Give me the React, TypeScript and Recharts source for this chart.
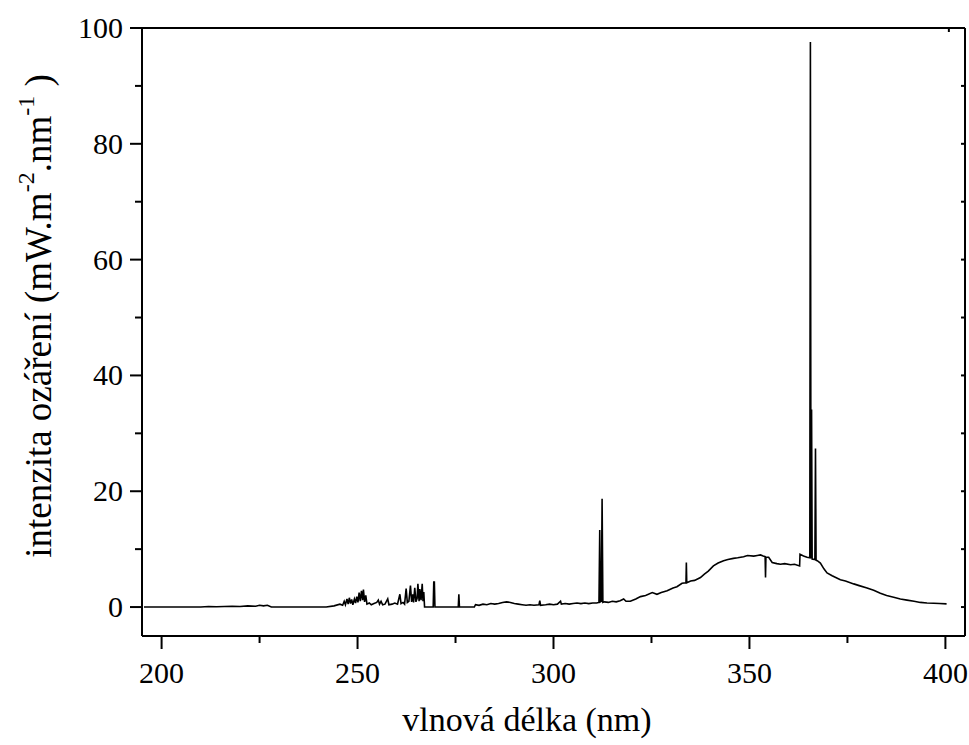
import { LineChart, Line, XAxis, YAxis } from 'recharts'

const FONT = '"Liberation Serif", "Times New Roman", serif'
const INK = '#000000'

// wavelength (nm) and irradiance
const WAVELENGTH = [
  195.5, 205, 210, 212, 214, 216, 218, 220, 222, 224, 225, 226, 227, 228, 235, 242, 244,
  245.5, 246.2, 246.6, 246.9, 247.3, 247.6, 247.9, 248.2, 248.5, 248.8, 249.2, 249.5, 249.8,
  250.1, 250.4, 250.7, 251.0, 251.3, 251.5, 251.8, 252.1, 252.4, 253.0, 253.5, 254.2, 254.9,
  255.3, 255.6, 256.0, 256.4, 257.0, 257.7, 258.0, 258.8, 259.5, 260.2, 260.8, 261.1, 261.6,
  262.0, 262.4, 262.7, 263.1, 263.5, 263.8, 264.1, 264.3, 264.6, 264.9, 265.2, 265.4, 265.7,
  265.9, 266.2, 266.5, 266.7, 266.9, 267.1, 269.3, 269.45, 269.6, 269.75, 275.7, 275.85, 276.0,
  279.8, 280.1, 281, 282, 283, 284, 285, 286, 287, 288, 289, 290, 291, 292, 293, 294, 295,
  296.3, 296.5, 296.7, 298, 299, 300, 301, 301.8, 302, 303, 304, 305, 306, 307, 308, 309, 310,
  311, 311.6, 311.8, 311.95, 312.2, 312.4, 312.6, 313, 314, 315, 316, 317, 317.9, 318.5, 319.6,
  321, 322.2, 323.5, 325.2, 326.4, 327.5, 329, 330.5, 331.5, 332.8, 333.8, 333.9, 334, 335,
  336, 337.5, 338.5, 339.5, 340.8, 342, 343.4, 344.5, 345.9, 347, 348.5, 349.5, 351.1, 352,
  352.8, 353.5, 354, 354.1, 354.2, 354.9, 355.8, 357, 357.9, 359, 360.5, 361.5, 362.8, 362.9,
  363.8, 364.7, 365.4, 365.55, 365.7, 365.85, 366, 366.7, 366.85, 367, 367.3, 368.1, 369,
  369.8, 371.1, 373.2, 374.5, 376.6, 378, 380, 381.7, 383.4, 385, 386.8, 388.5, 390.2, 392,
  393.6, 395.3, 397, 398.5, 400.3,
]

const INTENSITY = [
  0, 0, 0, 0.1, 0.05, 0.1, 0.15, 0.1, 0.2, 0.15, 0.3, 0.2, 0.3, 0, 0, 0, 0.2,
  0.5, 0.3, 1.0, 0.4, 1.4, 0.5, 1.6, 0.6, 1.3, 0.4, 1.4, 0.7, 1.8,
  0.8, 2.5, 1.0, 2.8, 1.2, 3.0, 0.9, 2.0, 0.5, 0.7, 0.4, 0.6, 0.8,
  1.2, 0.5, 1.0, 0.4, 0.5, 1.4, 0.4, 0.5, 0.7, 0.5, 2.2, 0.6, 0.8,
  0.5, 3.2, 0.8, 1.0, 3.7, 0.9, 2.2, 0.8, 3.3, 0.9, 1.5, 4.0, 1.0,
  3.1, 1.2, 4.0, 1.0, 2.6, 0, 0, 4.3, 4.3, 0, 0, 2.2, 0,
  0, 0.4, 0.3, 0.5, 0.4, 0.6, 0.5, 0.6, 0.8, 0.9, 0.8, 0.6, 0.5, 0.4, 0.3, 0.4, 0.3,
  0.4, 1.1, 0.3, 0.4, 0.5, 0.4, 0.5, 1.0, 0.5, 0.6, 0.5, 0.6, 0.7, 0.6, 0.7, 0.6, 0.7,
  0.7, 0.8, 13.3, 0.9, 1.0, 18.7, 0.8, 0.9, 0.8, 1.0, 0.9, 1.1, 1.4, 1.0, 1.0,
  1.4, 1.8, 2.0, 2.5, 2.2, 2.5, 2.8, 3.3, 3.5, 4.1, 4.2, 7.7, 4.2, 4.5,
  4.6, 5.1, 5.7, 6.2, 7.1, 7.6, 8.0, 8.2, 8.4, 8.5, 8.7, 8.9, 8.8, 8.9,
  9.0, 8.8, 8.7, 5.1, 8.6, 8.6, 7.7, 7.5, 7.4, 7.5, 7.3, 7.4, 7.1, 9.1,
  8.8, 8.6, 8.5, 97.6, 8.4, 34.1, 8.3, 8.2, 27.4, 8.1, 8.0, 7.6, 6.6,
  5.9, 5.4, 4.7, 4.5, 4.0, 3.7, 3.3, 2.9, 2.4, 2.0, 1.7, 1.4, 1.2, 1.0,
  0.8, 0.7, 0.65, 0.6, 0.55,
]

const X_TICKS = [200, 225, 250, 275, 300, 325, 350, 375, 400]
const Y_TICKS = [0, 10, 20, 30, 40, 50, 60, 70, 80, 90, 100]

const data = WAVELENGTH.map((nm, i) => ({ nm, val: INTENSITY[i] }))

// eslint-disable-next-line @typescript-eslint/no-explicit-any
function LeftTick({ x, y, payload }: any) {
  const major = payload.value % 20 === 0
  return (
    <g>
      <line x1={x} x2={x - (major ? 12 : 7)} y1={y} y2={y} stroke={INK} strokeWidth={2} />
      {major && (
        <text x={x - 19} y={y + 10} textAnchor="end" fontSize={30} fontFamily={FONT} fill={INK}>
          {payload.value}
        </text>
      )}
    </g>
  )
}

// eslint-disable-next-line @typescript-eslint/no-explicit-any
function BottomTick({ x, y, payload }: any) {
  const major = payload.value % 50 === 0
  return (
    <g>
      <line x1={x} x2={x} y1={y} y2={y + (major ? 13 : 7)} stroke={INK} strokeWidth={2} />
      {major && (
        <text x={x} y={y + 47} textAnchor="middle" fontSize={30} fontFamily={FONT} fill={INK}>
          {payload.value}
        </text>
      )}
    </g>
  )
}

// eslint-disable-next-line @typescript-eslint/no-explicit-any
function TopTick({ x, y }: any) {
  return <line x1={x} x2={x} y1={y} y2={y + 4} stroke={INK} strokeWidth={2} />
}

// eslint-disable-next-line @typescript-eslint/no-explicit-any
function RightTick({ x, y }: any) {
  return <line x1={x} x2={x - 4} y1={y} y2={y} stroke={INK} strokeWidth={2} />
}

function XTitle() {
  return (
    <text x={527} y={731} textAnchor="middle" fontSize={34} fontFamily={FONT} fill={INK}>
      vlnová délka (nm)
    </text>
  )
}

function YTitle() {
  return (
    <text
      x={51}
      y={316}
      transform="rotate(-90 51 316)"
      textAnchor="middle"
      fontSize={37}
      fontFamily={FONT}
      fill={INK}
    >
      intenzita ozáření (mW.m
      <tspan dy={-17} fontSize={24}>-2</tspan>
      <tspan dy={17}>.nm</tspan>
      <tspan dy={-17} fontSize={24}>-1</tspan>
      <tspan dy={17}> )</tspan>
    </text>
  )
}

export default function App() {
  return (
    <div style={{ position: 'absolute', left: 0, top: 0, background: '#fff' }}>
      <LineChart
        width={969}
        height={745}
        data={data}
        margin={{ top: 28, right: 4, bottom: 9, left: 0 }}
      >
        <XAxis
          xAxisId="b"
          dataKey="nm"
          type="number"
          domain={[195, 405]}
          allowDataOverflow
          ticks={X_TICKS}
          interval={0}
          height={100}
          tickSize={0}
          tickMargin={0}
          tickLine={false}
          tick={<BottomTick />}
          axisLine={{ stroke: INK, strokeWidth: 2 }}
          label={<XTitle />}
        />
        <XAxis
          xAxisId="t"
          orientation="top"
          mirror
          type="number"
          domain={[195, 405]}
          allowDataOverflow
          ticks={X_TICKS}
          interval={0}
          height={2}
          tickSize={0}
          tickMargin={0}
          tickLine={false}
          tick={<TopTick />}
          axisLine={{ stroke: INK, strokeWidth: 2 }}
        />
        <YAxis
          yAxisId="l"
          type="number"
          domain={[-5, 100]}
          allowDataOverflow
          ticks={Y_TICKS}
          interval={0}
          width={142}
          tickSize={0}
          tickMargin={0}
          tickLine={false}
          tick={<LeftTick />}
          axisLine={{ stroke: INK, strokeWidth: 2 }}
          label={<YTitle />}
        />
        <YAxis
          yAxisId="r"
          orientation="right"
          mirror
          type="number"
          domain={[-5, 100]}
          allowDataOverflow
          ticks={Y_TICKS}
          interval={0}
          width={2}
          tickSize={0}
          tickMargin={0}
          tickLine={false}
          tick={<RightTick />}
          axisLine={{ stroke: INK, strokeWidth: 2 }}
        />
        <Line
          xAxisId="b"
          yAxisId="l"
          type="linear"
          dataKey="val"
          stroke={INK}
          strokeWidth={1.6}
          dot={false}
          activeDot={false}
          isAnimationActive={false}
        />
      </LineChart>
    </div>
  )
}
